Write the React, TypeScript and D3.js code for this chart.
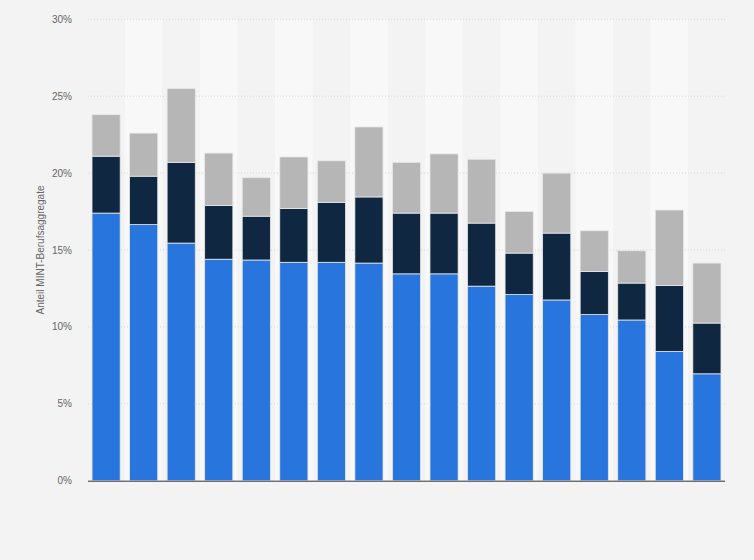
import React, { useEffect, useRef } from 'react';
import * as d3 from 'd3';

// 17 columns, the category labels are not shown in the chart
const categories = [
  'B1', 'B2', 'B3', 'B4', 'B5', 'B6', 'B7', 'B8', 'B9',
  'B10', 'B11', 'B12', 'B13', 'B14', 'B15', 'B16', 'B17',
];

// stacked segments, in percent
const seriesBlue = [17.4, 16.65, 15.45, 14.4, 14.35, 14.2, 14.2, 14.15, 13.45, 13.45, 12.65, 12.1, 11.75, 10.8, 10.45, 8.4, 6.95];
const seriesNavy = [3.7, 3.15, 5.25, 3.5, 2.85, 3.5, 3.9, 4.3, 3.95, 3.95, 4.1, 2.7, 4.35, 2.8, 2.4, 4.3, 3.3];
const seriesGray = [2.7, 2.8, 4.8, 3.4, 2.5, 3.35, 2.7, 4.55, 3.3, 3.85, 4.15, 2.7, 3.9, 2.65, 2.1, 4.9, 3.9];

const seriesKeys = ['blue', 'navy', 'gray'];
const seriesColors = ['#2876dd', '#0f2740', '#b6b6b6'];

const yTicks = [0, 5, 10, 15, 20, 25, 30];
const yLabel = 'Anteil MINT-Berufsaggregate';

const W = 754;
const H = 560;

const App: React.FC = () => {
  const svgRef = useRef<SVGSVGElement>(null);

  useEffect(() => {
    if (!svgRef.current) return;
    const svg = d3.select(svgRef.current);
    svg.selectAll('*').remove();

    const left = 88;
    const right = 725;
    const top = 19.3;
    const bottom = 480.7;
    const font = '"Liberation Sans", Arial, sans-serif';

    svg.append('rect').attr('width', W).attr('height', H).attr('fill', '#f3f3f3');

    const x = d3.scaleBand<string>()
      .domain(categories)
      .range([left, right])
      .paddingInner(0.25)
      .paddingOuter(0.107);

    const y = d3.scaleLinear().domain([0, 30]).range([bottom, top]);

    // alternating column stripes
    const step = x.step();
    svg.append('g')
      .selectAll('rect')
      .data(categories.filter((_, i) => i % 2 === 1))
      .enter()
      .append('rect')
      .attr('x', d => (x(d) || 0) + x.bandwidth() / 2 - step / 2)
      .attr('y', top)
      .attr('width', step)
      .attr('height', bottom - top)
      .attr('fill', '#f8f8f8');

    // gridlines
    svg.append('g')
      .selectAll('line')
      .data(yTicks.filter(t => t > 0))
      .enter()
      .append('line')
      .attr('x1', left)
      .attr('x2', right)
      .attr('y1', d => y(d))
      .attr('y2', d => y(d))
      .attr('stroke', '#d6d6d6')
      .attr('stroke-width', 1)
      .attr('stroke-dasharray', '1,2');

    // tick labels
    svg.append('g')
      .selectAll('text')
      .data(yTicks)
      .enter()
      .append('text')
      .attr('x', 72)
      .attr('y', d => y(d))
      .attr('dy', '0.35em')
      .attr('text-anchor', 'end')
      .style('font-family', font)
      .style('font-size', '10px')
      .attr('fill', '#666')
      .text(d => `${d}%`);

    // y-axis title
    svg.append('text')
      .attr('transform', `translate(44,${(top + bottom) / 2}) rotate(-90)`)
      .attr('text-anchor', 'middle')
      .style('font-family', font)
      .style('font-size', '10px')
      .attr('fill', '#666')
      .text(yLabel);

    // stacked bars
    const rows = categories.map((c, i) => ({
      cat: c,
      blue: seriesBlue[i],
      navy: seriesNavy[i],
      gray: seriesGray[i],
    }));
    const stacked = d3.stack<any>().keys(seriesKeys)(rows);

    svg.append('g')
      .selectAll('g')
      .data(stacked)
      .enter()
      .append('g')
      .attr('fill', (_, i) => seriesColors[i])
      .selectAll('rect')
      .data(d => d)
      .enter()
      .append('rect')
      .attr('x', d => x(d.data.cat) || 0)
      .attr('y', d => y(d[1]))
      .attr('width', x.bandwidth())
      .attr('height', d => y(d[0]) - y(d[1]))
      .attr('stroke', '#e8e8e8')
      .attr('stroke-width', 0.8);

    // baseline
    svg.append('line')
      .attr('x1', left)
      .attr('x2', right)
      .attr('y1', bottom + 0.5)
      .attr('y2', bottom + 0.5)
      .attr('stroke', '#333')
      .attr('stroke-width', 1);
  }, []);

  return (
    <div style={{ position: 'absolute', left: 0, top: 0 }}>
      <svg ref={svgRef} width={W} height={H} style={{ display: 'block' }} />
    </div>
  );
};

export default App;
